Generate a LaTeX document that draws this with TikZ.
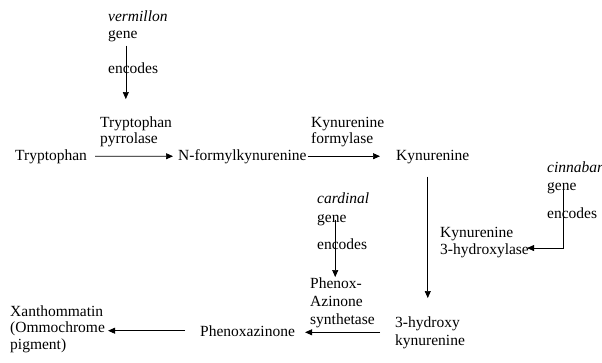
\documentclass[tikz,border=0pt]{standalone}
\usepackage{fontspec}
\setmainfont{Liberation Serif}
\usetikzlibrary{arrows.meta}

\begin{document}
\begin{tikzpicture}[x=1pt, y=-1pt, font=\fontsize{15.5}{17}\selectfont]
    % Set up styles for the pathway
    \tikzstyle{chem} = [anchor=base west, inner sep=0pt, align=left]
    \tikzstyle{wide} = [font=\fontsize{15.5}{18}\selectfont]
    \tikzstyle{flow} = [-{Triangle[length=7pt,width=6pt]}, line width=0.6pt]

    \useasboundingbox (0,0) rectangle (602,362);

    % Place the compounds (multi-line nodes sit on their last line)
    \node[chem] (trp) at (15,160) {Tryptophan};
    \node[chem] (nfk) at (178,160) {N-formylkynurenine};
    \node[chem] (kyn) at (396,160) {Kynurenine};
    \node[chem, wide] (hk) at (395,345) {3-hydroxy\\kynurenine};
    \node[chem] (phx) at (200,336) {Phenoxazinone};
    \node[chem, font=\fontsize{15.5}{16.5}\selectfont] (xan) at (10,349)
        {Xanthommatin\\(Ommochrome\\pigment)};

    % Place the enzymes
    \node[chem, font=\fontsize{15.5}{16}\selectfont] (tpo) at (100,143) {Tryptophan\\pyrrolase};
    \node[chem, font=\fontsize{15.5}{16}\selectfont] (kf) at (311,143) {Kynurenine\\formylase};
    \node[chem] (kmo) at (440,254) {Kynurenine\\3-hydroxylase};
    \node[chem, wide] (pas) at (310,324) {Phenox-\\Azinone\\synthetase};

    % Place the genes
    \node[chem] (verm) at (108,21) {\textit{vermillon}};
    \node[chem] (vgene) at (108,38) {gene};
    \node[chem] (venc) at (108,73) {encodes};
    \node[chem] (cinn) at (547,172) {\textit{cinnabar}};
    \node[chem] (cgene) at (547,190) {gene};
    \node[chem] (cenc) at (547,218) {encodes};
    \node[chem] (card) at (317,203) {\textit{cardinal}};
    \node[chem] (dgene) at (317,222) {gene};
    \node[chem] (denc) at (317,249) {encodes};

    % Draw the pathway steps
    \draw[flow, shorten <=8pt, shorten >=5pt] (trp) -- (nfk);
    \draw[flow, shorten <=1pt, shorten >=16pt] (nfk.east) -- (nfk.east -| kyn.west);
    \draw[flow, shorten <=13pt, shorten >=18pt]
        ([xshift=-5pt]kyn.south) -- ([xshift=-5pt]kyn.south |- hk.north);
    \draw[flow, shorten <=15pt, shorten >=10pt] (hk) -- (hk -| phx.east);
    \draw[flow, shorten <=15pt, shorten >=3pt] (phx.west) -- (phx.west -| xan.east);

    % Draw the genes encoding the enzymes
    \draw[flow, shorten <=4pt, shorten >=17pt]
        ([xshift=3pt]vgene.south) -- ([xshift=3pt]vgene.south |- tpo.north);
    \draw[flow] ([xshift=1.5pt]cgene.center) |- ([yshift=-6pt,xshift=-2pt]kmo.east);
    \draw[flow] ([xshift=3.4pt]dgene.center) -- ([xshift=3.4pt]dgene.center |- pas.north);

\end{tikzpicture}
\end{document}
